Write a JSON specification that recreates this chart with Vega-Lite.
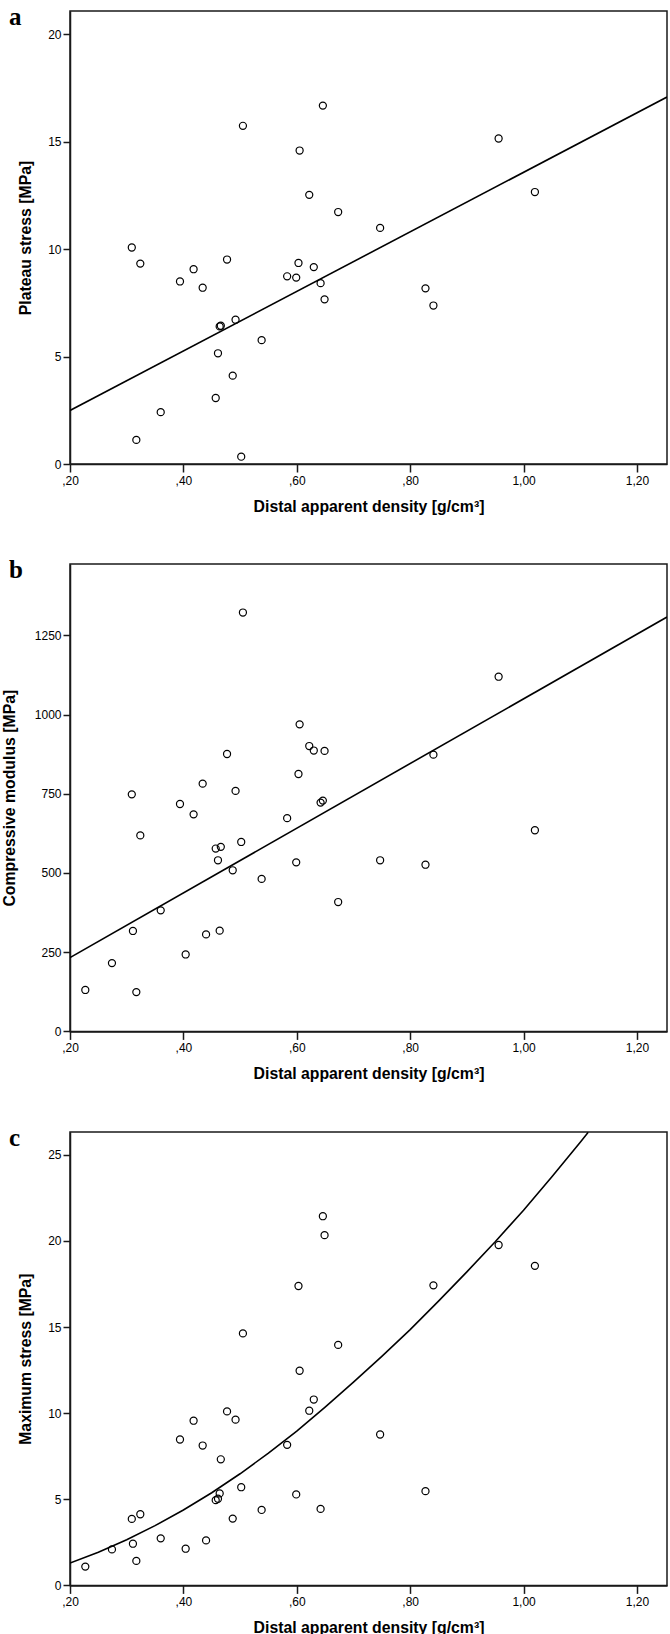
{
  "$schema": "https://vega.github.io/schema/vega-lite/v6.json",
  "padding": {"top": 4, "left": 1, "right": 0, "bottom": 0},
  "background": "white",
  "bounds": "flush",
  "spacing": 100,
  "config": {
    "view": {"stroke": "#1a1a1a", "strokeWidth": 1.5},
    "axis": {
      "grid": false,
      "domainColor": "#1a1a1a",
      "domainWidth": 1.5,
      "tickColor": "#1a1a1a",
      "tickWidth": 1.5,
      "labelFont": "Liberation Sans",
      "labelFontSize": 12,
      "labelColor": "#000",
      "titleFont": "Liberation Sans",
      "titleFontSize": 15.8,
      "titleFontWeight": "bold",
      "titleColor": "#000"
    },
    "axisX": {
      "tickSize": 8,
      "labelPadding": 3,
      "titlePadding": 13.5,
      "labelFlush": false
    },
    "axisY": {"tickSize": 7, "labelPadding": 2, "format": "d"},
    "title": {
      "anchor": "start",
      "frame": "group",
      "orient": "top",
      "offset": -19,
      "dx": -61,
      "font": "Liberation Serif",
      "fontSize": 25,
      "fontWeight": "bold",
      "color": "#000"
    }
  },
  "datasets": {
    "pts": [
      {"x": 0.227, "plateau": null, "modulus": 130.7, "maxstress": 1.09},
      {"x": 0.274, "plateau": null, "modulus": 215.6, "maxstress": 2.09},
      {"x": 0.309, "plateau": 10.07, "modulus": 748, "maxstress": 3.86},
      {"x": 0.311, "plateau": null, "modulus": 316.9, "maxstress": 2.42},
      {"x": 0.317, "plateau": 1.12, "modulus": 124, "maxstress": 1.42},
      {"x": 0.324, "plateau": 9.32, "modulus": 618.5, "maxstress": 4.13},
      {"x": 0.360, "plateau": 2.41, "modulus": 382, "maxstress": 2.73},
      {"x": 0.394, "plateau": 8.49, "modulus": 717.6, "maxstress": 8.47},
      {"x": 0.404, "plateau": null, "modulus": 242.8, "maxstress": 2.13},
      {"x": 0.418, "plateau": 9.06, "modulus": 685, "maxstress": 9.56},
      {"x": 0.434, "plateau": 8.20, "modulus": 781.8, "maxstress": 8.12},
      {"x": 0.440, "plateau": null, "modulus": 306, "maxstress": 2.61},
      {"x": 0.457, "plateau": 3.07, "modulus": 577, "maxstress": 4.95},
      {"x": 0.461, "plateau": 5.15, "modulus": 540, "maxstress": 5.03},
      {"x": 0.464, "plateau": 6.40, "modulus": 318, "maxstress": 5.34},
      {"x": 0.466, "plateau": 6.43, "modulus": 582.5, "maxstress": 7.32},
      {"x": 0.477, "plateau": 9.51, "modulus": 875.4, "maxstress": 10.10},
      {"x": 0.487, "plateau": 4.11, "modulus": 508.5, "maxstress": 3.88},
      {"x": 0.492, "plateau": 6.71, "modulus": 759, "maxstress": 9.62},
      {"x": 0.502, "plateau": 0.34, "modulus": 597.8, "maxstress": 5.70},
      {"x": 0.505, "plateau": 15.73, "modulus": 1321.9, "maxstress": 14.63},
      {"x": 0.538, "plateau": 5.76, "modulus": 481.3, "maxstress": 4.38},
      {"x": 0.583, "plateau": 8.73, "modulus": 673, "maxstress": 8.16},
      {"x": 0.599, "plateau": 8.67, "modulus": 533.5, "maxstress": 5.28},
      {"x": 0.603, "plateau": 9.35, "modulus": 812.3, "maxstress": 17.38},
      {"x": 0.605, "plateau": 14.58, "modulus": 969, "maxstress": 12.46},
      {"x": 0.622, "plateau": 12.52, "modulus": 900.5, "maxstress": 10.14},
      {"x": 0.630, "plateau": 9.16, "modulus": 886.3, "maxstress": 10.79},
      {"x": 0.642, "plateau": 8.41, "modulus": 722, "maxstress": 4.44},
      {"x": 0.646, "plateau": 16.67, "modulus": 728.4, "maxstress": 21.43},
      {"x": 0.649, "plateau": 7.66, "modulus": 885.2, "maxstress": 20.33},
      {"x": 0.673, "plateau": 11.72, "modulus": 408.3, "maxstress": 13.96},
      {"x": 0.747, "plateau": 10.98, "modulus": 540, "maxstress": 8.76},
      {"x": 0.827, "plateau": 8.17, "modulus": 526, "maxstress": 5.47},
      {"x": 0.841, "plateau": 7.37, "modulus": 873.3, "maxstress": 17.42},
      {"x": 0.956, "plateau": 15.14, "modulus": 1119.3, "maxstress": 19.76},
      {"x": 1.020, "plateau": 12.65, "modulus": 634.8, "maxstress": 18.55}
    ],
    "fitA": [
      {"x": 0.2, "plateau": 2.49},
      {"x": 1.253, "plateau": 17.07}
    ],
    "fitB": [
      {"x": 0.2, "modulus": 233},
      {"x": 1.253, "modulus": 1307.7}
    ],
    "fitC": [
      {"x": 0.2, "maxstress": 1.30},
      {"x": 0.25, "maxstress": 1.93},
      {"x": 0.3, "maxstress": 2.65},
      {"x": 0.35, "maxstress": 3.47},
      {"x": 0.4, "maxstress": 4.38},
      {"x": 0.45, "maxstress": 5.38},
      {"x": 0.5, "maxstress": 6.48},
      {"x": 0.55, "maxstress": 7.68},
      {"x": 0.6, "maxstress": 8.95},
      {"x": 0.65, "maxstress": 10.35},
      {"x": 0.7, "maxstress": 11.8},
      {"x": 0.75, "maxstress": 13.3},
      {"x": 0.8, "maxstress": 14.85},
      {"x": 0.85, "maxstress": 16.5},
      {"x": 0.9, "maxstress": 18.2},
      {"x": 0.95, "maxstress": 19.95},
      {"x": 1.0, "maxstress": 21.78},
      {"x": 1.05, "maxstress": 23.72},
      {"x": 1.1, "maxstress": 25.73},
      {"x": 1.114, "maxstress": 26.3}
    ]
  },
  "vconcat": [
    {
      "width": 597,
      "height": 453,
      "title": {"text": "a"},
      "encoding": {
        "x": {"field": "x", "type": "quantitative", "scale": {"domain": [0.2, 1.253], "nice": false, "zero": false}, "axis": {"title": "Distal apparent density [g/cm³]", "values": [0.2, 0.4, 0.6, 0.8, 1.0, 1.2], "labelExpr": "datum.value < 0.999 ? ',' + substring(format(datum.value, '.2f'), 2) : replace(format(datum.value, '.2f'), '.', ',')"}},
        "y": {"field": "plateau", "type": "quantitative", "scale": {"domain": [0, 21.07], "nice": false}, "axis": {"title": "Plateau stress [MPa]", "values": [0, 5, 10, 15, 20], "titlePadding": 14.5}}
      },
      "layer": [
        {"data": {"name": "pts"}, "mark": {"type": "point", "shape": "circle", "filled": false, "size": 50, "strokeWidth": 1.2, "color": "#000", "opacity": 1}},
        {"data": {"name": "fitA"}, "mark": {"type": "line", "color": "#000", "strokeWidth": 1.6, "clip": true}}
      ]
    },
    {
      "width": 597,
      "height": 467.4,
      "title": {"text": "b"},
      "encoding": {
        "x": {"field": "x", "type": "quantitative", "scale": {"domain": [0.2, 1.253], "nice": false, "zero": false}, "axis": {"title": "Distal apparent density [g/cm³]", "values": [0.2, 0.4, 0.6, 0.8, 1.0, 1.2], "labelExpr": "datum.value < 0.999 ? ',' + substring(format(datum.value, '.2f'), 2) : replace(format(datum.value, '.2f'), '.', ',')"}},
        "y": {"field": "modulus", "type": "quantitative", "scale": {"domain": [0, 1475], "nice": false}, "axis": {"title": "Compressive modulus [MPa]", "values": [0, 250, 500, 750, 1000, 1250], "titlePadding": 16.5}}
      },
      "layer": [
        {"data": {"name": "pts"}, "mark": {"type": "point", "shape": "circle", "filled": false, "size": 50, "strokeWidth": 1.2, "color": "#000", "opacity": 1}},
        {"data": {"name": "fitB"}, "mark": {"type": "line", "color": "#000", "strokeWidth": 1.6, "clip": true}}
      ]
    },
    {
      "width": 597,
      "height": 453.4,
      "title": {"text": "c"},
      "encoding": {
        "x": {"field": "x", "type": "quantitative", "scale": {"domain": [0.2, 1.253], "nice": false, "zero": false}, "axis": {"title": "Distal apparent density [g/cm³]", "values": [0.2, 0.4, 0.6, 0.8, 1.0, 1.2], "labelExpr": "datum.value < 0.999 ? ',' + substring(format(datum.value, '.2f'), 2) : replace(format(datum.value, '.2f'), '.', ',')"}},
        "y": {"field": "maxstress", "type": "quantitative", "scale": {"domain": [0, 26.32], "nice": false}, "axis": {"title": "Maximum stress [MPa]", "values": [0, 5, 10, 15, 20, 25], "titlePadding": 14.2}}
      },
      "layer": [
        {"data": {"name": "pts"}, "mark": {"type": "point", "shape": "circle", "filled": false, "size": 50, "strokeWidth": 1.2, "color": "#000", "opacity": 1}},
        {"data": {"name": "fitC"}, "mark": {"type": "line", "color": "#000", "strokeWidth": 1.6, "clip": true}}
      ]
    }
  ]
}
